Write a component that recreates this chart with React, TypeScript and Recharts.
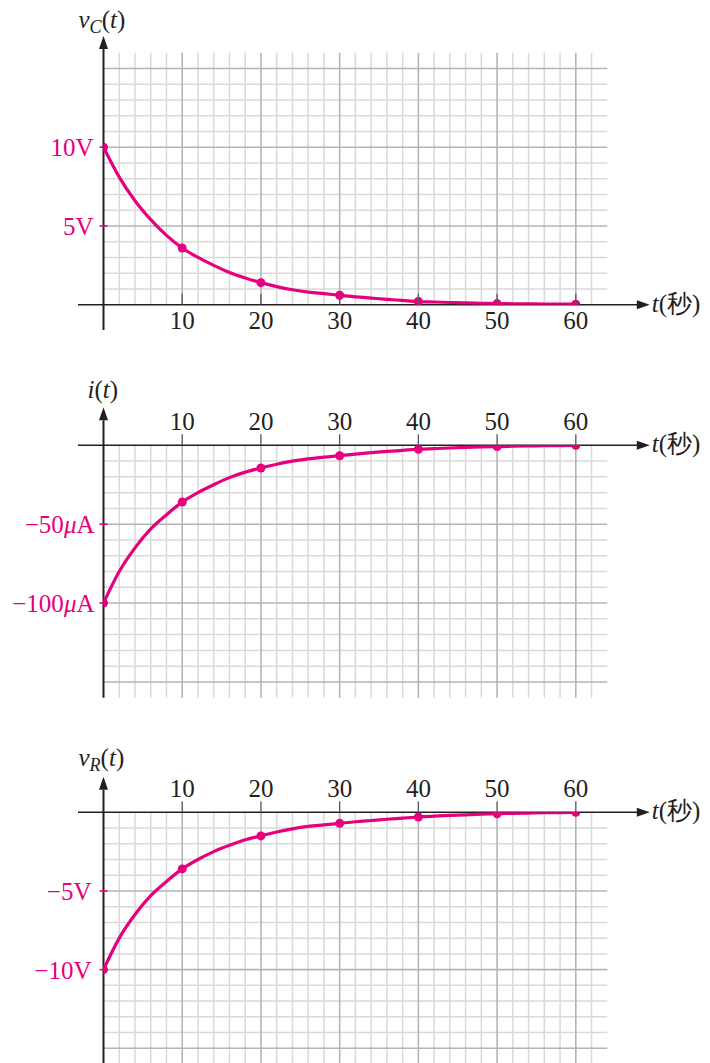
import React from 'react';
import { LineChart, Line, XAxis, YAxis, CartesianGrid, ReferenceLine, ReferenceDot } from 'recharts';

const MAGENTA = '#e6007e';
const INK = '#231f20';
const SERIF = 'Liberation Serif, Tinos, Times New Roman, DejaVu Serif, serif';

// sample times (s) along each decay curve; dots sit on the 10 s marks
const times = [0, 2, 4, 6, 8, 10, 12, 14, 16, 18, 20, 22, 24, 26, 28, 30, 32, 34, 36, 38, 40, 42, 44, 46, 48, 50, 52, 54, 56, 58, 60];

const vcVolts = [10, 8.1, 6.6, 5.4, 4.4, 3.6, 3.0, 2.5, 2.05, 1.7, 1.4, 1.15, 0.95, 0.8, 0.7, 0.6, 0.5, 0.42, 0.34, 0.27, 0.2, 0.17, 0.14, 0.11, 0.09, 0.07, 0.06, 0.05, 0.04, 0.035, 0.03];
const iMicroAmps = [-100, -80, -65, -53, -44, -36, -30, -25, -20.5, -17, -14.4, -12, -10, -8.6, -7.5, -6.6, -5.6, -4.7, -3.9, -3.2, -2.5, -2.1, -1.7, -1.35, -1.05, -0.8, -0.6, -0.45, -0.3, -0.15, 0];
const vrVolts = [-10, -8.0, -6.5, -5.3, -4.4, -3.6, -3.0, -2.5, -2.1, -1.75, -1.5, -1.25, -1.05, -0.9, -0.8, -0.7, -0.6, -0.52, -0.44, -0.37, -0.3, -0.24, -0.2, -0.16, -0.12, -0.09, -0.07, -0.05, -0.03, -0.015, 0];

const xTicks = [10, 20, 30, 40, 50, 60];
const vcTicks = [5, 10];
const iTicks = [-50, -100];
const vrTicks = [-5, -10];

// graph paper: 2 s columns, one small division per row, heavy line every 5 rows
const step = (from: number, to: number, by: number) => {
  const out: number[] = [];
  for (let v = from; v <= to; v += by) out.push(v);
  return out;
};
const majorX = step(10, 60, 10);
const minorX = step(2, 62, 2).filter((v) => v % 10 !== 0);
const rows = (unit: number) => {
  const all = step(1, 15, 1);
  return {
    minor: all.filter((k) => k % 5 !== 0).map((k) => k * unit),
    major: all.filter((k) => k % 5 === 0).map((k) => k * unit),
  };
};

const PLOT_LEFT = 103.5;
const PLOT_RIGHT = 102.7;

type PanelProps = {
  top: number;
  height: number;
  marginTop: number;
  marginBottom: number;
  values: number[];
  yDomain: [number, number];
  yTicks: number[];
  unit: number;
  yLabel: (v: number) => React.ReactNode;
  yLabelGap: number;
  xOrientation: 'top' | 'bottom';
  xLabelDy: number;
  yArrowTip: number;
  yAxisEnd: number;
  title: React.ReactNode;
  titleDx: number;
  titleDy: number;
};

function Panel(p: PanelProps) {
  const data = times.map((t, i) => ({ t, v: p.values[i] }));
  const grid = rows(p.unit);
  const arrowBase = p.yArrowTip - (13 / 15.75) * Math.abs(p.unit);
  const top = p.xOrientation === 'top';

  // the axes need a 1px band to be drawn at all; the plot edge is the data zero line
  const renderXTick = (props: any) => {
    const { x, payload } = props;
    const y0 = top ? p.marginTop : p.height - p.marginBottom;
    return (
      <g key={`x-${payload.value}`}>
        <line x1={x} x2={x} y1={y0} y2={y0 - 11} stroke="#55565a" strokeWidth={1.3} />
        <text x={x} y={y0 + p.xLabelDy} textAnchor="middle" fontFamily={SERIF} fontSize={25} fill={INK}>
          {payload.value}
        </text>
      </g>
    );
  };

  const renderYTick = (props: any) => {
    const { y, payload } = props;
    const x0 = PLOT_LEFT;
    return (
      <g key={`y-${payload.value}`}>
        <line x1={x0 - 4} x2={x0 + 4} y1={y} y2={y} stroke={MAGENTA} strokeWidth={1.6} />
        <text x={x0 - p.yLabelGap} y={y + 9} textAnchor="end" fontFamily={SERIF} fontSize={25} fill={MAGENTA}>
          {p.yLabel(payload.value)}
        </text>
      </g>
    );
  };

  const renderDot = (d: any) =>
    d.payload.t % 10 === 0 ? (
      <circle key={d.index} cx={d.cx} cy={d.cy} r={4.5} fill={MAGENTA} />
    ) : (
      <g key={d.index} />
    );

  return (
    <div style={{ position: 'absolute', left: 0, top: p.top, width: 710, height: p.height }}>
      <LineChart
        width={710}
        height={p.height}
        data={data}
        margin={{
          top: top ? p.marginTop - 1 : p.marginTop,
          right: PLOT_RIGHT,
          bottom: top ? p.marginBottom : p.marginBottom - 1,
          left: PLOT_LEFT - 1,
        }}
      >
        <CartesianGrid verticalValues={minorX} horizontalValues={grid.minor} stroke="#d9d9dc" strokeWidth={1.5} />
        <CartesianGrid verticalValues={majorX} horizontalValues={grid.major} stroke="#b4b4b9" strokeWidth={1.6} />
        <XAxis
          dataKey="t"
          type="number"
          domain={[0, 64]}
          ticks={xTicks}
          interval={0}
          orientation={p.xOrientation}
          height={1}
          axisLine={false}
          tickLine={false}
          tickSize={0}
          tickMargin={0}
          tick={renderXTick}
          allowDataOverflow
        />
        <YAxis
          type="number"
          domain={p.yDomain}
          ticks={p.yTicks}
          interval={0}
          width={1}
          axisLine={false}
          tickLine={false}
          tickSize={0}
          tickMargin={0}
          tick={renderYTick}
          allowDataOverflow
        />
        {/* time axis with arrow and unit label */}
        <ReferenceLine
          segment={[{ x: -3.24, y: 0 }, { x: 67.8, y: 0 }]}
          stroke={INK}
          strokeWidth={1.5}
          ifOverflow="visible"
        />
        <ReferenceDot
          x={69.4}
          y={0}
          ifOverflow="visible"
          shape={(s: any) => (
            <g>
              <path d={`M${s.cx},${s.cy} L${s.cx - 13},${s.cy - 4.5} L${s.cx - 13},${s.cy + 4.5} Z`} fill={INK} />
              <text x={s.cx + 2} y={s.cy + 7} fontFamily={SERIF} fontSize={25} fill={INK}>
                <tspan fontStyle="italic">t</tspan>(秒)
              </text>
            </g>
          )}
        />
        {/* vertical axis with arrow and quantity label */}
        <ReferenceLine
          segment={[{ x: 0, y: p.yAxisEnd }, { x: 0, y: arrowBase }]}
          stroke={INK}
          strokeWidth={2}
          ifOverflow="visible"
        />
        <ReferenceDot
          x={0}
          y={p.yArrowTip}
          ifOverflow="visible"
          shape={(s: any) => (
            <g>
              <path d={`M${s.cx},${s.cy} L${s.cx - 4.5},${s.cy + 13} L${s.cx + 4.5},${s.cy + 13} Z`} fill={INK} />
              <text x={s.cx + p.titleDx} y={s.cy + p.titleDy} fontFamily={SERIF} fontSize={25} fill={INK}>
                {p.title}
              </text>
            </g>
          )}
        />
        <Line
          dataKey="v"
          type="monotone"
          stroke={MAGENTA}
          strokeWidth={3.2}
          dot={renderDot}
          activeDot={false}
          isAnimationActive={false}
        />
      </LineChart>
    </div>
  );
}

const volts = (v: number) => `${v < 0 ? '\u2212' : ''}${Math.abs(v)}V`;
const microAmps = (v: number) => (
  <>
    {`${v < 0 ? '\u2212' : ''}${Math.abs(v)}`}
    <tspan fontStyle="italic">μ</tspan>A
  </>
);

export default function App() {
  return (
    <div style={{ position: 'absolute', left: 0, top: 0, width: 710, height: 1063, overflow: 'hidden', background: '#fff' }}>
      <Panel
        top={0}
        height={340}
        marginTop={52.7}
        marginBottom={35.3}
        values={vcVolts}
        yDomain={[0, 16]}
        yTicks={vcTicks}
        unit={1}
        yLabel={volts}
        yLabelGap={10}
        xOrientation="bottom"
        xLabelDy={24}
        yArrowTip={17.06}
        yAxisEnd={-1.6}
        title={
          <>
            <tspan fontStyle="italic">v</tspan>
            <tspan fontStyle="italic" fontSize={18} dy={5}>C</tspan>
            <tspan dy={-5}>(</tspan>
            <tspan fontStyle="italic">t</tspan>)
          </>
        }
        titleDx={-25}
        titleDy={-8}
      />
      <Panel
        top={370}
        height={330}
        marginTop={75.3}
        marginBottom={2.3}
        values={iMicroAmps}
        yDomain={[-160, 0]}
        yTicks={iTicks}
        unit={-10}
        yLabel={microAmps}
        yLabelGap={9}
        xOrientation="top"
        xLabelDy={-15}
        yArrowTip={24.1}
        yAxisEnd={-160}
        title={
          <>
            <tspan fontStyle="italic">i</tspan>(<tspan fontStyle="italic">t</tspan>)
          </>
        }
        titleDx={-16}
        titleDy={-9}
      />
      <Panel
        top={730}
        height={334}
        marginTop={82.3}
        marginBottom={0}
        values={vrVolts}
        yDomain={[-16, 0]}
        yTicks={vrTicks}
        unit={-1}
        yLabel={volts}
        yLabelGap={12}
        xOrientation="top"
        xLabelDy={-15.6}
        yArrowTip={2.26}
        yAxisEnd={-16}
        title={
          <>
            <tspan fontStyle="italic">v</tspan>
            <tspan fontStyle="italic" fontSize={18} dy={5}>R</tspan>
            <tspan dy={-5}>(</tspan>
            <tspan fontStyle="italic">t</tspan>)
          </>
        }
        titleDx={-25}
        titleDy={-11}
      />
    </div>
  );
}
